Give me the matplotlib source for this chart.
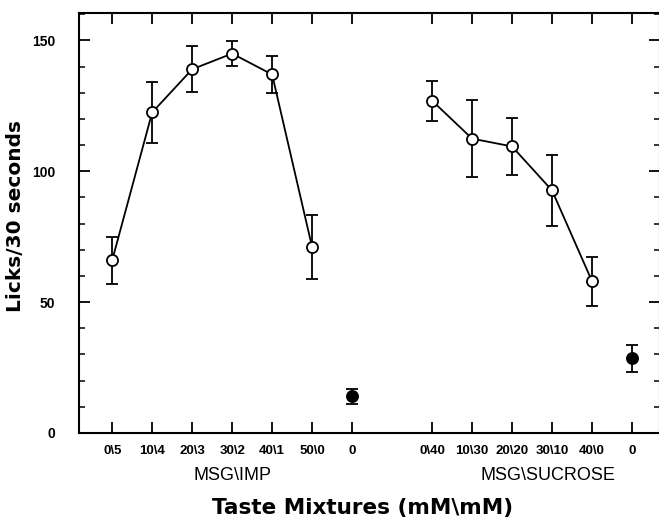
import matplotlib.pyplot as plt
from matplotlib.ticker import MultipleLocator
import matplotlib.transforms as mtransforms

# MSG\IMP series
imp_labels = ["0\\5", "10\\4", "20\\3", "30\\2", "40\\1", "50\\0"]
imp_x = [1, 2, 3, 4, 5, 6]
imp_mean = [66, 122.5, 139, 145, 137, 71]
imp_err = [9, 11.5, 8.7, 4.8, 7, 12.3]

# MSG\SUCROSE series
suc_labels = ["0\\40", "10\\30", "20\\20", "30\\10", "40\\0"]
suc_x = [9, 10, 11, 12, 13]
suc_mean = [127, 112.5, 109.5, 92.7, 58]
suc_err = [7.6, 14.6, 10.8, 13.6, 9.4]

# water controls (filled)
ctrl_x = [7, 14]
ctrl_mean = [14, 28.5]
ctrl_err = [3, 5]

fig = plt.figure(figsize=(6.59, 5.22), dpi=100)
ax = fig.add_axes([79 / 659, 89 / 522, 581 / 659, 420 / 522])

line_kw = dict(color="black", lw=1.3, capsize=4, capthick=1.5, elinewidth=1.3)
ax.errorbar(imp_x, imp_mean, yerr=imp_err, fmt="-o", ms=8, mfc="white",
            mec="black", mew=1.3, zorder=3, **line_kw)
ax.errorbar(suc_x, suc_mean, yerr=suc_err, fmt="-o", ms=8, mfc="white",
            mec="black", mew=1.3, zorder=3, **line_kw)
ax.errorbar(ctrl_x, ctrl_mean, yerr=ctrl_err, fmt="o", ms=8, mfc="black",
            mec="black", mew=1.3, zorder=3, **line_kw)

ax.set_xlim(0.17, 14.7)
ax.set_ylim(0, 160.5)

ticks = imp_x + [7] + suc_x + [14]
tick_labels = imp_labels + ["0"] + suc_labels + ["0"]
ax.set_xticks(ticks)
ax.set_xticklabels(tick_labels, fontfamily="Liberation Sans",
                   fontweight="bold", fontsize=9.5)
ax.yaxis.set_major_locator(MultipleLocator(50))
ax.yaxis.set_minor_locator(MultipleLocator(10))
for t in ax.get_yticklabels():
    t.set_fontfamily("Liberation Sans")
    t.set_fontweight("bold")
    t.set_fontsize(10)

ax.tick_params(axis="x", which="major", direction="in", length=8, width=1.3,
               top=True, pad=9)
ax.tick_params(axis="y", which="major", direction="in", length=8, width=1.3,
               right=True, pad=17)
ax.tick_params(axis="y", which="minor", direction="in", length=4.5, width=1.1,
               right=True)
for s in ax.spines.values():
    s.set_linewidth(1.5)

trans = mtransforms.blended_transform_factory(ax.transData, ax.transAxes)
ax.text(4, -0.1, "MSG\\IMP", transform=trans, ha="center", va="center",
        fontfamily="Liberation Sans", fontsize=13)
ax.text(11.9, -0.1, "MSG\\SUCROSE", transform=trans, ha="center", va="center",
        fontfamily="Liberation Sans", fontsize=13)

ax.text((362.5 - 79) / 581, -0.179,
        "Taste Mixtures (mM\\mM)", transform=ax.transAxes, ha="center",
        va="center", fontfamily="DejaVu Sans", fontweight="bold", fontsize=15.5)
ax.set_ylabel("Licks/30 seconds", fontfamily="DejaVu Sans",
              fontweight="bold", fontsize=14.5)
ax.yaxis.set_label_coords(-0.093, 0.517)

fig.savefig("out.png", dpi=100)
